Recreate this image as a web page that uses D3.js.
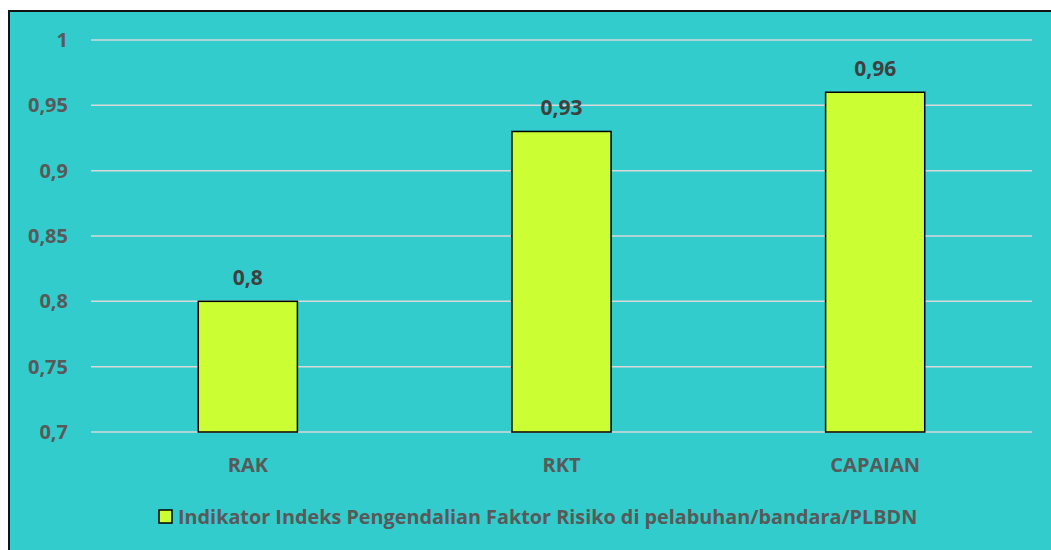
<!DOCTYPE html>
<html><head><meta charset="utf-8">
<script src="https://cdn.jsdelivr.net/npm/d3@7"></script>
<style>body{margin:0;background:#fff}svg{display:block}</style>
</head><body><svg id="c" width="1051" height="550"></svg>
<script>
const categories = ["RAK", "RKT", "CAPAIAN"];
const values = [0.8, 0.93, 0.96];
const valueLabels = ["0,8", "0,93", "0,96"];
const yTicks = [0.7, 0.75, 0.8, 0.85, 0.9, 0.95, 1];
const yTickLabels = ["0,7", "0,75", "0,8", "0,85", "0,9", "0,95", "1"];
const seriesName = "Indikator Indeks Pengendalian Faktor Risiko di pelabuhan/bandara/PLBDN";

const svg = d3.select("#c");
const font = "'Open Sans', sans-serif";
svg.append("rect").attr("x", 9).attr("y", 11).attr("width", 1060).attr("height", 560)
  .attr("fill", "#33CCCC").attr("stroke", "#111").attr("stroke-width", 2);

const x = d3.scaleBand().domain(categories).range([91, 1032]).paddingInner(0.684).paddingOuter(0.342);
const y = d3.scaleLinear().domain([0.7, 1]).range([432, 40]);

const g = svg.append("g");
g.selectAll("line.grid").data(yTicks).join("line").attr("class", "grid")
  .attr("x1", 91).attr("x2", 1032).attr("y1", d => y(d)).attr("y2", d => y(d))
  .attr("stroke", "#D9D9D9").attr("stroke-width", 1.5);

g.selectAll("text.yt").data(yTicks).join("text").attr("class", "yt")
  .attr("x", 68).attr("y", d => y(d)).attr("dy", "0.35em").attr("text-anchor", "end")
  .attr("font-family", font).attr("font-weight", "bold").attr("font-size", 20).attr("fill", "#595959")
  .text((d, i) => yTickLabels[i]);

g.selectAll("rect.bar").data(values).join("rect").attr("class", "bar")
  .attr("x", (d, i) => x(categories[i])).attr("width", x.bandwidth())
  .attr("y", d => y(d)).attr("height", d => y(0.7) - y(d))
  .attr("fill", "#CCFF33").attr("stroke", "#000").attr("stroke-width", 1.5);

g.selectAll("text.vl").data(values).join("text").attr("class", "vl")
  .attr("x", (d, i) => x(categories[i]) + x.bandwidth() / 2).attr("y", d => y(d) - 16)
  .attr("text-anchor", "middle").attr("font-family", font).attr("font-weight", "bold")
  .attr("font-size", 21).attr("fill", "#404040").text((d, i) => valueLabels[i]);

g.selectAll("text.xl").data(categories).join("text").attr("class", "xl")
  .attr("x", d => x(d) + x.bandwidth() / 2).attr("y", 472)
  .attr("text-anchor", "middle").attr("font-family", font).attr("font-weight", "bold")
  .attr("font-size", 20).attr("fill", "#595959").text(d => d);

const lg = svg.append("g");
lg.append("rect").attr("x", 159).attr("y", 510).attr("width", 13).attr("height", 13)
  .attr("fill", "#CCFF33").attr("stroke", "#000").attr("stroke-width", 1.5);
const lt = lg.append("text").attr("x", 178).attr("y", 524)
  .attr("font-family", font).attr("font-weight", "bold").attr("font-size", 18).attr("fill", "#595959")
  .text(seriesName);
const w = lt.node().getComputedTextLength();
lt.attr("font-size", 18 * 740 / w);
</script></body></html>
